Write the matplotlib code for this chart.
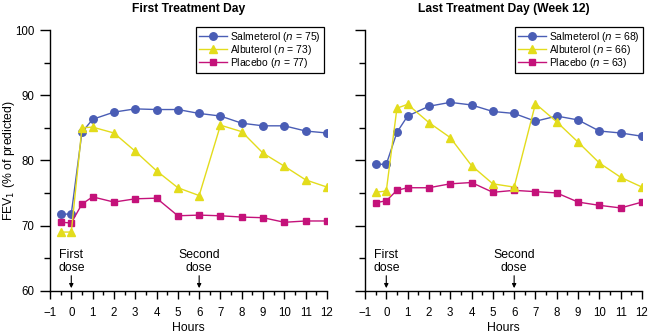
import matplotlib.pyplot as plt
from matplotlib.ticker import MultipleLocator

plt.rcParams["font.family"] = ["Liberation Sans", "DejaVu Sans"]
plt.rcParams["font.size"] = 8.3

# Hours relative to first dose
hours = [-0.5, 0, 0.5, 1, 2, 3, 4, 5, 6, 7, 8, 9, 10, 11, 12]

# First treatment day, FEV1 (% of predicted)
salm_first = [71.7, 71.8, 84.3, 86.3, 87.4, 87.9, 87.8, 87.8, 87.2, 86.8, 85.7, 85.3, 85.3, 84.5, 84.2]
albu_first = [69.0, 69.0, 85.0, 85.1, 84.2, 81.4, 78.4, 75.8, 74.6, 85.4, 84.4, 81.1, 79.1, 77.0, 75.9]
plac_first = [70.5, 70.4, 73.3, 74.4, 73.6, 74.1, 74.2, 71.5, 71.6, 71.5, 71.3, 71.2, 70.5, 70.7, 70.7]

# Last treatment day (week 12)
salm_last = [79.4, 79.4, 84.3, 86.8, 88.3, 88.9, 88.5, 87.5, 87.2, 86.0, 86.8, 86.2, 84.5, 84.2, 83.7]
albu_last = [75.1, 75.3, 88.0, 88.6, 85.8, 83.5, 79.2, 76.4, 75.9, 88.7, 85.9, 82.8, 79.6, 77.4, 75.9]
plac_last = [73.5, 73.8, 75.4, 75.8, 75.8, 76.4, 76.6, 75.1, 75.4, 75.2, 75.0, 73.6, 73.1, 72.7, 73.6]

n_first = {"Salmeterol": 75, "Albuterol": 73, "Placebo": 77}
n_last = {"Salmeterol": 68, "Albuterol": 66, "Placebo": 63}

titles = ["First Treatment Day", "Last Treatment Day (Week 12)"]
dose_hours = [0, 6]
dose_labels = ["First\ndose", "Second\ndose"]

STYLE = {
    "Salmeterol": dict(color="#4a5db5", marker="o", ms=5.4, zorder=3),
    "Albuterol": dict(color="#e3dc1c", marker="^", ms=5.4, zorder=4),
    "Placebo": dict(color="#c4127a", marker="s", ms=4.8, zorder=3),
}

fig = plt.figure(figsize=(6.5, 3.35), dpi=100)
ax_l = fig.add_axes([0.0769, 0.1322, 0.4262, 0.7782])
ax_r = fig.add_axes([0.5615, 0.1322, 0.4262, 0.7782])

panels = [
    (ax_l, titles[0], salm_first, albu_first, plac_first, n_first),
    (ax_r, titles[1], salm_last, albu_last, plac_last, n_last),
]

for i, (ax, title, salm, albu, plac, n) in enumerate(panels):
    for name, vals in [("Salmeterol", salm), ("Albuterol", albu), ("Placebo", plac)]:
        st = STYLE[name]
        ax.plot(hours, vals, color=st["color"], marker=st["marker"],
                markersize=st["ms"], linewidth=1.0, zorder=st["zorder"],
                label=f"{name} ($n$ = {n[name]})")

    ax.set_xlim(-1, 12)
    ax.set_ylim(60, 100)
    ax.spines["top"].set_visible(False)
    ax.spines["right"].set_visible(False)
    for sp in ("left", "bottom"):
        ax.spines[sp].set_linewidth(1.0)

    ax.xaxis.set_major_locator(MultipleLocator(1))
    ax.xaxis.set_minor_locator(MultipleLocator(0.5))
    ax.yaxis.set_major_locator(MultipleLocator(10))
    ax.yaxis.set_minor_locator(MultipleLocator(5))
    ax.tick_params(axis="x", which="major", length=6, width=1.0, pad=6)
    ax.tick_params(axis="x", which="minor", length=3, width=1.0)
    ax.tick_params(axis="y", which="major", length=7.5, width=1.0, pad=3.5)
    ax.tick_params(axis="y", which="minor", length=4, width=1.0)

    if i == 0:
        ax.set_ylabel("FEV$_1$ (% of predicted)", fontsize=8.8)
        ax.yaxis.set_label_coords(-0.12, 0.5)
    else:
        ax.tick_params(axis="y", which="both", labelleft=False)

    ax.set_xlabel("Hours", fontsize=8.8, labelpad=2)
    ax.set_title(title, fontsize=8.7, fontweight="bold", pad=13)

    # dose markers above the time axis
    for h, lab in zip(dose_hours, dose_labels):
        ax.annotate("", xy=(h, 60.4), xytext=(h, 62.3),
                    arrowprops=dict(arrowstyle="-|>", color="black", lw=0.8,
                                    mutation_scale=6, shrinkA=0, shrinkB=0))
        ax.text(h, 62.5, lab, ha="center", va="bottom", fontsize=8.8,
                linespacing=1.15)

    anchor_x = 0.99 if i == 0 else 1.003
    leg = ax.legend(loc="upper right", bbox_to_anchor=(anchor_x, 1.012),
                    borderaxespad=0, fancybox=False, framealpha=1,
                    edgecolor="black", fontsize=7.5, handlelength=2.7,
                    labelspacing=-0.12, borderpad=0.3, handletextpad=0.3)
    leg.get_frame().set_linewidth(0.9)

fig.savefig("out.png", dpi=100)
